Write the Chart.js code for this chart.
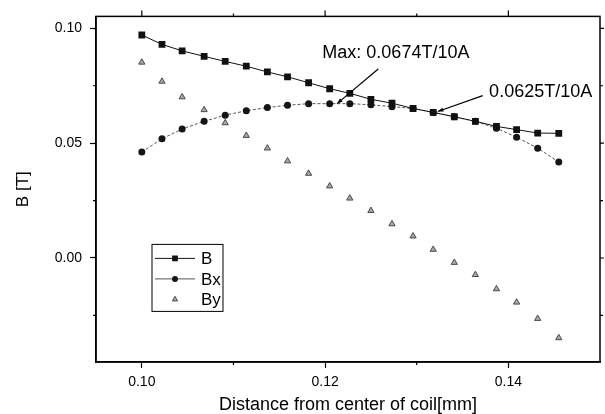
<!DOCTYPE html>
<html>
<head>
<meta charset="utf-8">
<script src="https://cdn.jsdelivr.net/npm/chart.js@4/dist/chart.umd.min.js"></script>
<style>
  html, body { margin: 0; padding: 0; background: #fff; }
  #wrap { width: 605px; height: 414px; position: relative; }
</style>
</head>
<body>
<div id="wrap"><canvas id="myChart"></canvas></div>
<script>
// distance from coil centre (x) and field values
const distance = [0.1000, 0.1022, 0.1044, 0.1068, 0.1091, 0.1114, 0.1137, 0.1159, 0.1182, 0.1205, 0.1227,
  0.1250, 0.1273, 0.1296, 0.1318, 0.1341, 0.1364, 0.1387, 0.1409, 0.1432, 0.1455];
const bTotal = [0.0971, 0.0930, 0.0902, 0.0878, 0.0856, 0.0835, 0.0810, 0.0789, 0.0763, 0.0737, 0.0717,
  0.0691, 0.0674, 0.0651, 0.0634, 0.0615, 0.0595, 0.0573, 0.0559, 0.0544, 0.0543];
const bX = [0.0461, 0.0519, 0.0562, 0.0595, 0.0622, 0.0641, 0.0655, 0.0665, 0.0672, 0.0672, 0.0672,
  0.0667, 0.0659, 0.0651, 0.0634, 0.0615, 0.0595, 0.0565, 0.0526, 0.0478, 0.0418];
const bY = [0.0852, 0.0769, 0.0701, 0.0645, 0.0588, 0.0533, 0.0478, 0.0422, 0.0368, 0.0313, 0.0260,
  0.0206, 0.0148, 0.0095, 0.0037, -0.0020, -0.0073, -0.0135, -0.0193, -0.0264, -0.0348];

const seriesNames = ['B', 'Bx', 'By'];
const xTicks = [0.10, 0.12, 0.14];
const xMinor = [0.11, 0.13];
const yTicks = [0.00, 0.05, 0.10];
const yMinor = [-0.025, 0.025, 0.075];

// annotations: text, text anchor, arrow start, arrow end (data units)
const notes = [
  { text: 'Max: 0.0674T/10A', at: [0.1197, 0.0892], from: [0.1258, 0.0823], to: [0.1213, 0.0672] },
  { text: '0.0625T/10A', at: [0.1379, 0.0724], from: [0.1372, 0.0707], to: [0.1323, 0.0638] },
];

const FONT = "'Liberation Sans', Arial, sans-serif";
const toPoints = (ys) => ys.map((v, i) => ({ x: distance[i], y: v }));

const data = {
  datasets: [
    {
      label: seriesNames[0],
      data: toPoints(bTotal),
      borderColor: '#111',
      borderWidth: 1,
      pointStyle: 'rect',
      pointRadius: 4.8,
      pointBackgroundColor: '#111',
      pointBorderColor: '#111',
      pointBorderWidth: 0,
      showLine: true,
    },
    {
      label: seriesNames[1],
      data: toPoints(bX),
      borderColor: '#555',
      borderWidth: 1,
      borderDash: [3, 2],
      pointStyle: 'circle',
      pointRadius: 3.5,
      pointBackgroundColor: '#151515',
      pointBorderColor: '#151515',
      pointBorderWidth: 0,
      showLine: true,
    },
    {
      label: seriesNames[2],
      data: toPoints(bY),
      showLine: false,
      pointStyle: 'triangle',
      pointRadius: 3.6,
      pointBackgroundColor: '#a8a8a8',
      pointBorderColor: '#4a4a4a',
      pointBorderWidth: 1,
    },
  ]
};

// frame, top/right ticks, minor ticks, legend box and arrows
const decorPlugin = {
  id: 'decor',
  afterDraw(chart) {
    const { ctx, chartArea: a, scales: { x, y } } = chart;
    ctx.save();
    ctx.strokeStyle = '#000';
    ctx.lineWidth = 1.5;
    ctx.strokeRect(a.left, a.top, a.right - a.left, a.bottom - a.top);

    ctx.lineWidth = 1.2;
    ctx.beginPath();
    xTicks.forEach(v => {
      const px = x.getPixelForValue(v);
      ctx.moveTo(px, a.top); ctx.lineTo(px, a.top - 6);
    });
    xMinor.forEach(v => {
      const px = x.getPixelForValue(v);
      ctx.moveTo(px, a.top); ctx.lineTo(px, a.top - 3);
      ctx.moveTo(px, a.bottom); ctx.lineTo(px, a.bottom + 3);
    });
    yTicks.forEach(v => {
      const py = y.getPixelForValue(v);
      ctx.moveTo(a.right, py); ctx.lineTo(a.right + 4, py);
    });
    yMinor.forEach(v => {
      const py = y.getPixelForValue(v);
      ctx.moveTo(a.left, py); ctx.lineTo(a.left - 3, py);
      ctx.moveTo(a.right, py); ctx.lineTo(a.right + 3, py);
    });
    ctx.stroke();

    // legend box inside the plot
    const lx = a.left + 56, ly = a.top + 228, lw = 71, lh = 67;
    ctx.lineWidth = 1;
    ctx.strokeRect(lx, ly, lw, lh);
    ctx.font = '17px ' + FONT;
    ctx.textBaseline = 'middle';
    chart.data.datasets.forEach((ds, i) => {
      const ry = ly + 14 + i * 20.5;
      if (ds.showLine) {
        ctx.save();
        ctx.strokeStyle = ds.borderColor;
        ctx.lineWidth = ds.borderWidth;
        ctx.beginPath();
        ctx.moveTo(lx + 3, ry); ctx.lineTo(lx + 43, ry);
        ctx.stroke();
        ctx.restore();
      }
      ctx.save();
      ctx.fillStyle = ds.pointBackgroundColor;
      ctx.strokeStyle = ds.pointBorderColor;
      ctx.lineWidth = ds.pointBorderWidth;
      Chart.helpers.drawPoint(ctx, {
        pointStyle: ds.pointStyle,
        radius: ds.pointRadius * 0.85,
        rotation: 0,
        borderWidth: ds.pointBorderWidth,
      }, lx + 23, ry);
      ctx.restore();
      ctx.fillStyle = '#000';
      ctx.fillText(ds.label, lx + 49, ry + 1);
    });

    // annotation arrows
    ctx.font = '18px ' + FONT;
    ctx.textBaseline = 'middle';
    ctx.fillStyle = '#000';
    ctx.strokeStyle = '#000';
    ctx.lineWidth = 1.2;
    notes.forEach(n => {
      ctx.fillText(n.text, x.getPixelForValue(n.at[0]), y.getPixelForValue(n.at[1]));
      const x0 = x.getPixelForValue(n.from[0]), y0 = y.getPixelForValue(n.from[1]);
      const x1 = x.getPixelForValue(n.to[0]), y1 = y.getPixelForValue(n.to[1]);
      ctx.beginPath();
      ctx.moveTo(x0, y0); ctx.lineTo(x1, y1);
      ctx.stroke();
      const ang = Math.atan2(y1 - y0, x1 - x0);
      ctx.beginPath();
      ctx.moveTo(x1, y1);
      ctx.lineTo(x1 - 6 * Math.cos(ang - 0.35), y1 - 6 * Math.sin(ang - 0.35));
      ctx.lineTo(x1 - 6 * Math.cos(ang + 0.35), y1 - 6 * Math.sin(ang + 0.35));
      ctx.closePath();
      ctx.fill();
    });
    ctx.restore();
  }
};

const config = {
  type: 'scatter',
  data: data,
  options: {
    responsive: true,
    maintainAspectRatio: false,
    animation: false,
    layout: { padding: { top: 13, right: 4, left: 0, bottom: 0 } },
    plugins: {
      legend: { display: false },
      tooltip: { enabled: false },
    },
    scales: {
      x: {
        type: 'linear',
        min: 0.095,
        max: 0.15,
        afterFit: (s) => { s.height = 52; },
        afterBuildTicks: (s) => { s.ticks = xTicks.map(v => ({ value: v })); },
        border: { display: true, color: '#000', width: 1.5 },
        grid: { display: true, drawOnChartArea: false, drawTicks: true, tickLength: 6, color: '#000', tickWidth: 1.2 },
        ticks: {
          padding: 6,
          color: '#000',
          font: { family: FONT, size: 14 },
          callback: (v) => Number(v).toFixed(2),
          maxRotation: 0,
        },
        title: {
          display: true,
          text: 'Distance from center of coil[mm]',
          color: '#000',
          font: { family: FONT, size: 18, lineHeight: 1 },
          padding: { top: 0, bottom: 0 },
        },
      },
      y: {
        type: 'linear',
        min: -0.0453,
        max: 0.1052,
        afterFit: (s) => { s.width = 96; },
        afterBuildTicks: (s) => { s.ticks = yTicks.map(v => ({ value: v })); },
        border: { display: true, color: '#000', width: 1.5 },
        grid: { display: true, drawOnChartArea: false, drawTicks: true, tickLength: 6, color: '#000', tickWidth: 1.2 },
        ticks: {
          padding: 8,
          color: '#000',
          font: { family: FONT, size: 14 },
          callback: (v) => Number(v).toFixed(2),
        },
        title: {
          display: true,
          text: 'B [T]',
          color: '#000',
          font: { family: FONT, size: 17, lineHeight: 1 },
          padding: { top: 15, bottom: 0 },
        },
      },
    },
  },
  plugins: [decorPlugin],
};

let myChart = new Chart(document.getElementById('myChart'), config);
</script>
</body>
</html>
